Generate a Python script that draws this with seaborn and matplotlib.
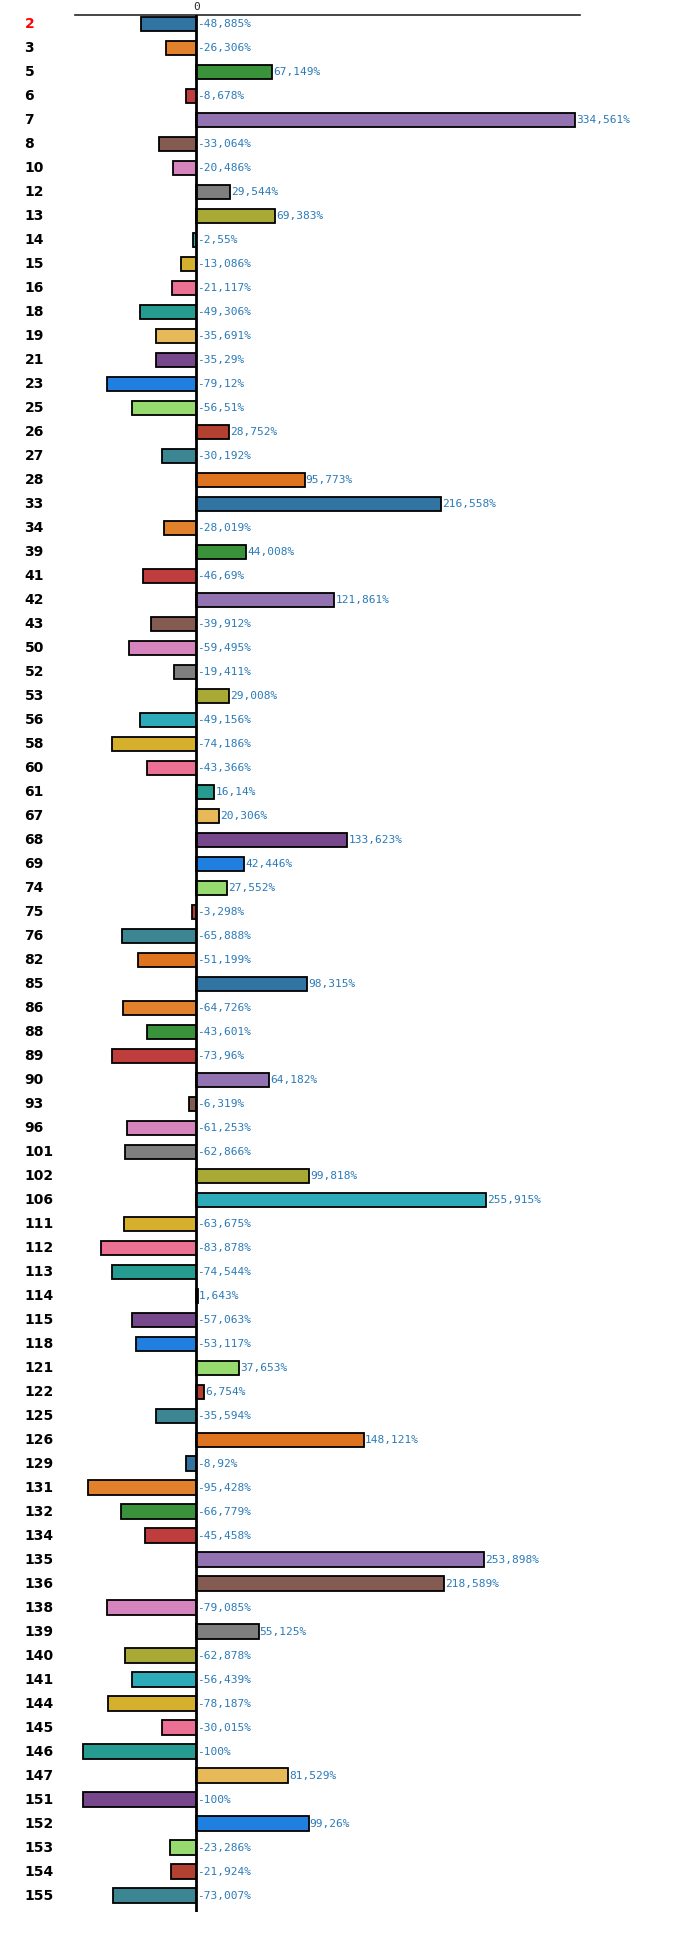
import matplotlib
matplotlib.use("Agg")
import matplotlib.pyplot as plt
import seaborn as sns
import pandas as pd

# =====================================================
# DATA
# =====================================================

categories = [2, 3, 5, 6, 7, 8, 10, 12, 13, 14, 15, 16, 18, 19, 21, 23, 25, 26, 27, 28,
              33, 34, 39, 41, 42, 43, 50, 52, 53, 56, 58, 60, 61, 67, 68, 69, 74, 75, 76, 82,
              85, 86, 88, 89, 90, 93, 96, 101, 102, 106, 111, 112, 113, 114, 115, 118, 121, 122, 125, 126,
              129, 131, 132, 134, 135, 136, 138, 139, 140, 141, 144, 145, 146, 147, 151, 152, 153, 154, 155]

values = [-48.885, -26.306, 67.149, -8.678, 334.561, -33.064, -20.486, 29.544, 69.383, -2.55,
          -13.086, -21.117, -49.306, -35.691, -35.29, -79.12, -56.51, 28.752, -30.192, 95.773,
          216.558, -28.019, 44.008, -46.69, 121.861, -39.912, -59.495, -19.411, 29.008, -49.156,
          -74.186, -43.366, 16.14, 20.306, 133.623, 42.446, 27.552, -3.298, -65.888, -51.199,
          98.315, -64.726, -43.601, -73.96, 64.182, -6.319, -61.253, -62.866, 99.818, 255.915,
          -63.675, -83.878, -74.544, 1.643, -57.063, -53.117, 37.653, 6.754, -35.594, 148.121,
          -8.92, -95.428, -66.779, -45.458, 253.898, 218.589, -79.085, 55.125, -62.878, -56.439,
          -78.187, -30.015, -100, 81.529, -100, 99.26, -23.286, -21.924, -73.007]

palette_cycle = ["#1f77b4", "#ff7f0e", "#2ca02c", "#d62728", "#9467bd", "#8c564b", "#e377c2",
                 "#7f7f7f", "#bcbd22", "#17becf", "#f0c010", "#ff5c8a", "#13aea0", "#ffc140",
                 "#7b3b98", "#0080ff", "#92ec5e", "#c8301c", "#2e8fa0", "#ff7000"]

# =====================================================
# PLOT
# =====================================================

df = pd.DataFrame({"cat": [str(c) for c in categories], "value": values})
colors = [palette_cycle[i % len(palette_cycle)] for i in range(len(df))]

sns.set_style("white")
plt.rcParams["font.family"] = ["DejaVu Sans Mono", "DejaVu Sans"]

fig = plt.figure(figsize=(7, 19.41), dpi=100)
ax = fig.add_axes([75 / 700, 1 - 1912 / 1941, 505 / 700, 1897 / 1941])

sns.barplot(data=df, x="value", y="cat", hue="cat", palette=colors, legend=False,
            orient="h", width=0.62, edgecolor="black", linewidth=1.3, ax=ax)

ax.set_xlim(-107, 339)
ax.set_ylim(len(df) - 0.33, -0.375)
ax.axvline(0, color="black", lw=2, zorder=5)

for i, v in enumerate(values):
    x = v + 1 if v > 0 else 1
    txt = f"{v:g}".replace(".", ",") + "%"
    ax.text(x, i, txt, va="center", ha="left", fontsize=8, color="#2a7ab8")

for s in ["left", "right", "bottom"]:
    ax.spines[s].set_visible(False)
ax.spines["top"].set_linewidth(1.2)
ax.xaxis.tick_top()
ax.set_xticks([0])
ax.set_xticklabels(["0"])
ax.tick_params(axis="x", length=0, pad=2, labelsize=8)
ax.tick_params(axis="y", length=0, pad=0)
ax.set_yticks([])
ax.set_xlabel("")
ax.set_ylabel("")

for i, c in enumerate(categories):
    ax.text(-0.1, i, str(c), transform=ax.get_yaxis_transform(), ha="left", va="center",
            fontsize=10, fontweight="bold", color="red" if i == 0 else "black",
            family="DejaVu Sans")

fig.savefig("out.png", dpi=100)
